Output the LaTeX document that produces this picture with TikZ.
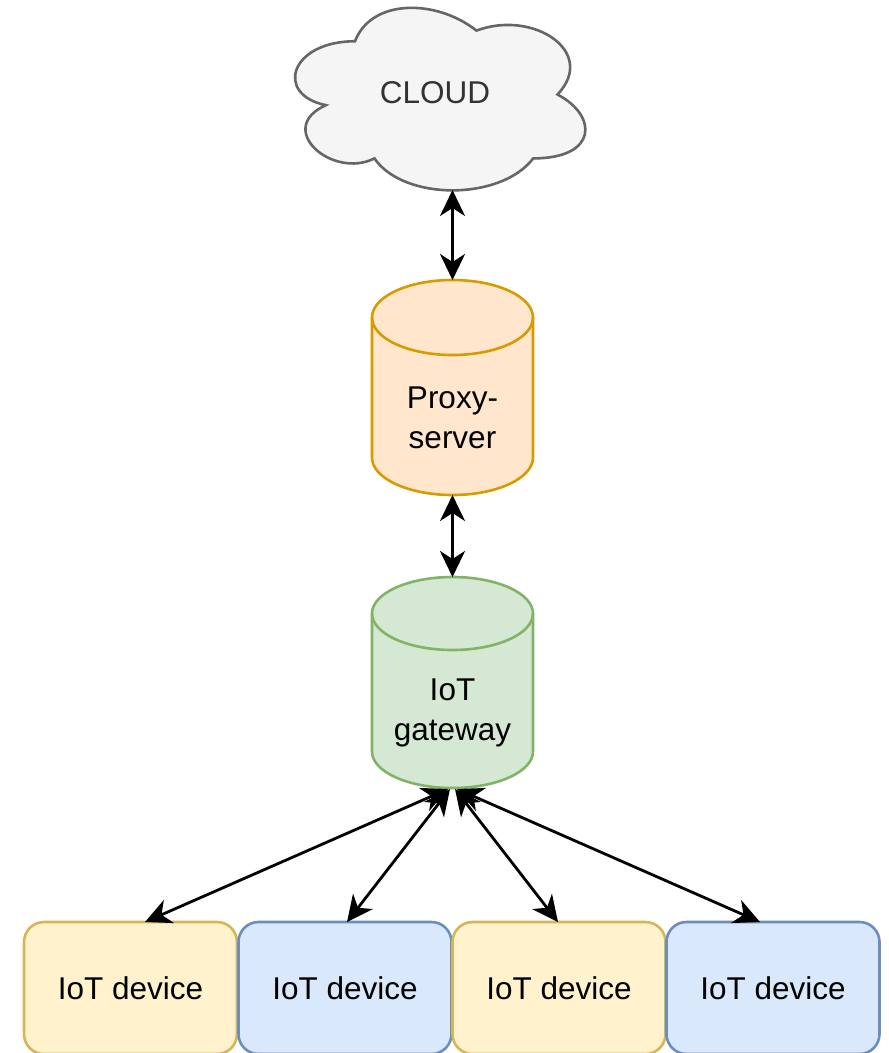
\documentclass[tikz,border=0pt]{standalone}
\usepackage{fontspec}
\setmainfont{Liberation Sans}
\usetikzlibrary{arrows.meta}

\definecolor{cloudfill}{HTML}{F5F5F5}
\definecolor{cloudline}{HTML}{666666}
\definecolor{cloudtext}{HTML}{333333}
\definecolor{proxyfill}{HTML}{FFE6CC}
\definecolor{proxyline}{HTML}{D79B00}
\definecolor{gwfill}{HTML}{D5E8D4}
\definecolor{gwline}{HTML}{82B366}
\definecolor{yelfill}{HTML}{FFF2CC}
\definecolor{yelline}{HTML}{D6B656}
\definecolor{bluefill}{HTML}{DAE8FC}
\definecolor{blueline}{HTML}{6C8EBF}

\tikzset{
  lbl/.style={font=\fontsize{31.5}{40}\selectfont, align=center, inner sep=0pt},
  outline/.style={line width=2.6pt},
  devicebox/.style={lbl, outline, rounded corners=20pt, minimum width=213pt,
    minimum height=132pt},
  yeldev/.style={devicebox, draw=yelline, fill=yelfill},
  bluedev/.style={devicebox, draw=blueline, fill=bluefill},
  biarrow/.style={line width=2.8pt, black,
    {Stealth[length=26pt,width=25pt,inset=8pt]}-{Stealth[length=26pt,width=25pt,inset=8pt]}},
}

\begin{document}
\begin{tikzpicture}[x=1pt,y=-1pt]
\useasboundingbox (0,0) rectangle (889,1053);

% cloud outline (unit box scaled onto the cloud's frame)
\begin{scope}[shift={(274,-12)}, x=324pt, y=-213pt]
  \path[outline, draw=cloudline, fill=cloudfill]
    (0.25,0.25) .. controls (0.05,0.25) and (0,0.5) .. (0.16,0.55)
    .. controls (0,0.66) and (0.18,0.9) .. (0.31,0.8)
    .. controls (0.4,1) and (0.7,1) .. (0.8,0.8)
    .. controls (1,0.8) and (1,0.6) .. (0.875,0.5)
    .. controls (1,0.3) and (0.8,0.1) .. (0.625,0.2)
    .. controls (0.5,0.05) and (0.3,0.05) .. (0.25,0.25) -- cycle;
\end{scope}
\node[lbl, text=cloudtext] (cloud) at (435,93) {CLOUD};
\coordinate (cloudbot) at (452.5,190);

% proxy-server cylinder
\path[outline, draw=proxyline, fill=proxyfill]
  (372,317.5) -- (372,457.5)
  arc[start angle=180, end angle=360, x radius=80.5pt, y radius=37.5pt]
  -- (533,317.5)
  arc[start angle=0, end angle=180, x radius=80.5pt, y radius=37.5pt] -- cycle;
\draw[outline, proxyline] (372,317.5)
  arc[start angle=180, end angle=360, x radius=80.5pt, y radius=37.5pt];
\node[lbl] (proxy) at (452.5,418) {Proxy-\\server};
\coordinate (proxytop) at (452.5,280);
\coordinate (proxybot) at (452.5,495);

% IoT gateway cylinder
\path[outline, draw=gwline, fill=gwfill]
  (372,613.5) -- (372,751.5)
  arc[start angle=180, end angle=360, x radius=80.5pt, y radius=36.5pt]
  -- (533,613.5)
  arc[start angle=0, end angle=180, x radius=80.5pt, y radius=36.5pt] -- cycle;
\draw[outline, gwline] (372,613.5)
  arc[start angle=180, end angle=360, x radius=80.5pt, y radius=36.5pt];
\node[lbl] (gateway) at (452.5,713) {IoT\\gateway};
\coordinate (gwtop) at (452.5,577);
\coordinate (gwa) at (448,789);
\coordinate (gwb) at (450,789);
\coordinate (gwc) at (455,789);
\coordinate (gwd) at (457,789);

% IoT devices
\node[yeldev]  (dev1) at (130.5,988) {IoT device};
\node[bluedev] (dev2) at (345,988)   {IoT device};
\node[yeldev]  (dev3) at (559,988)   {IoT device};
\node[bluedev] (dev4) at (773,988)   {IoT device};
\coordinate (dev1in) at (145,922);
\coordinate (dev2in) at (347,922);
\coordinate (dev3in) at (558,922);
\coordinate (dev4in) at (760,922);

% connectors
\draw[biarrow] (cloudbot) -- (proxytop);
\draw[biarrow] (proxybot) -- (gwtop);
\draw[biarrow] (gwa) -- (dev1in);
\draw[biarrow] (gwb) -- (dev2in);
\draw[biarrow] (gwc) -- (dev3in);
\draw[biarrow] (gwd) -- (dev4in);
\end{tikzpicture}
\end{document}
